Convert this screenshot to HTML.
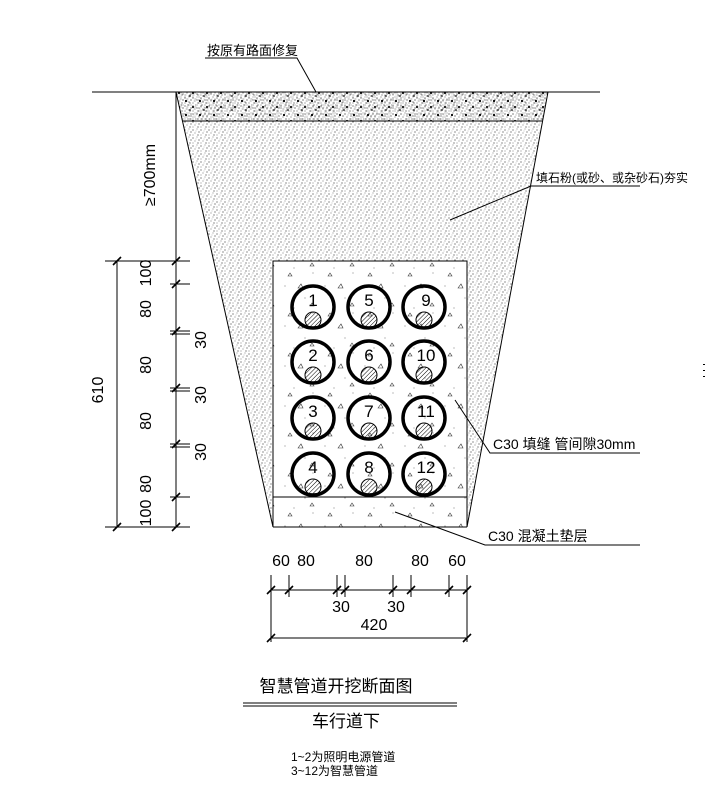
<!DOCTYPE html>
<html><head><meta charset="utf-8"><style>
body{margin:0;background:#fff}
text{font-family:"Liberation Sans Narrow","Liberation Sans","Noto Sans CJK SC",sans-serif;fill:#000}
</style></head><body>
<svg width="707" height="796" viewBox="0 0 707 796" xmlns="http://www.w3.org/2000/svg">
<defs>
<pattern id="sand" width="8" height="8" patternUnits="userSpaceOnUse">
<circle cx="1" cy="2" r="0.6" fill="#444"/><circle cx="5" cy="1" r="0.5" fill="#666"/>
<circle cx="7" cy="4" r="0.6" fill="#444"/><circle cx="3" cy="5" r="0.5" fill="#555"/>
<circle cx="6" cy="7" r="0.6" fill="#444"/><circle cx="1" cy="7" r="0.5" fill="#666"/>
<circle cx="4" cy="3" r="0.4" fill="#777"/>
</pattern>
<pattern id="pave" width="14" height="14" patternUnits="userSpaceOnUse">
<rect width="14" height="14" fill="url(#sand)"/>
<circle cx="4" cy="3" r="1.1" fill="#000"/><circle cx="11" cy="9" r="1.1" fill="#111"/>
<circle cx="8" cy="12" r="0.9" fill="#222"/>
</pattern>
<pattern id="conc" width="40" height="40" patternUnits="userSpaceOnUse">
<circle cx="5" cy="6" r="0.5" fill="#555"/><circle cx="25" cy="18" r="0.5" fill="#555"/>
<circle cx="33" cy="33" r="0.5" fill="#555"/><circle cx="14" cy="28" r="0.5" fill="#555"/>
<path d="M18 8 l3 -4 l2 4z M30 26 l2 -3 l2 3z M8 36 l2 -3 l2 3z" fill="none" stroke="#333" stroke-width="0.6"/>
</pattern>
<pattern id="hatch" width="3" height="3" patternUnits="userSpaceOnUse" patternTransform="rotate(45)">
<line x1="0" y1="0" x2="0" y2="3" stroke="#000" stroke-width="1"/>
</pattern>
</defs>
<polygon points="176,92 548,92 467,527 273,527" fill="url(#sand)"/>
<polygon points="176,92 548,92 542,121 182,121" fill="url(#pave)"/>
<rect x="273" y="261" width="194" height="266" fill="#fff"/>
<rect x="273" y="261" width="194" height="266" fill="url(#conc)"/>
<g stroke="#000" fill="none" stroke-width="1">
<line x1="92" y1="92" x2="600" y2="92"/>
<line x1="176" y1="92" x2="273" y2="527"/>
<line x1="548" y1="92" x2="467" y2="527"/>
<line x1="182" y1="121" x2="542" y2="121"/>
<rect x="273" y="261" width="194" height="236"/>
<line x1="273" y1="527" x2="467" y2="527"/>
<line x1="273" y1="497" x2="273" y2="527"/><line x1="467" y1="497" x2="467" y2="527"/>
<polyline points="205,58 297,58 316,92"/>
<polyline points="450,220 531,186 640,186"/>
<polyline points="455,400 490,453 640,453"/>
<polyline points="395,512 485,545 640,545"/>
<line x1="117" y1="261" x2="117" y2="527"/>
<line x1="176" y1="92" x2="176" y2="527"/>
<line x1="105" y1="261" x2="190" y2="261"/>
<line x1="105" y1="527" x2="190" y2="527"/>
<line x1="170" y1="284" x2="190" y2="284"/>
<line x1="170" y1="331" x2="190" y2="331"/><line x1="170" y1="334" x2="190" y2="334"/>
<line x1="170" y1="388" x2="190" y2="388"/><line x1="170" y1="391" x2="190" y2="391"/>
<line x1="170" y1="444" x2="190" y2="444"/><line x1="170" y1="447" x2="190" y2="447"/>
<line x1="170" y1="497" x2="190" y2="497"/>
<line x1="271" y1="590" x2="467" y2="590"/>
<line x1="271" y1="638" x2="467" y2="638"/>
<line x1="271" y1="575" x2="271" y2="642"/><line x1="467" y1="575" x2="467" y2="642"/>
<line x1="289" y1="575" x2="289" y2="597"/><line x1="337" y1="575" x2="337" y2="597"/>
<line x1="345" y1="575" x2="345" y2="597"/><line x1="393" y1="575" x2="393" y2="597"/>
<line x1="411" y1="575" x2="411" y2="597"/><line x1="449" y1="575" x2="449" y2="597"/>
</g>
<g stroke="#000" stroke-width="1.6">
<path d="M113 265l8-8M113 531l8-8M172 265l8-8M172 288l8-8M172 335l8-8M172 392l8-8M172 448l8-8M172 501l8-8M172 531l8-8"/>
<path d="M267 594l8-8M285 594l8-8M333 594l8-8M341 594l8-8M389 594l8-8M407 594l8-8M445 594l8-8M463 594l8-8M267 642l8-8M463 642l8-8"/>
</g>
<g fill="none" stroke="#000" stroke-width="3.5">
<circle cx="313" cy="307" r="21"/><circle cx="369" cy="307" r="21"/><circle cx="424" cy="307" r="21"/>
<circle cx="313" cy="362" r="21"/><circle cx="369" cy="362" r="21"/><circle cx="424" cy="362" r="21"/>
<circle cx="313" cy="418" r="21"/><circle cx="369" cy="418" r="21"/><circle cx="424" cy="418" r="21"/>
<circle cx="313" cy="474" r="21"/><circle cx="369" cy="474" r="21"/><circle cx="424" cy="474" r="21"/>
</g>
<g fill="url(#hatch)" stroke="#000" stroke-width="1">
<circle cx="313" cy="320" r="8"/><circle cx="369" cy="320" r="8"/><circle cx="424" cy="320" r="8"/>
<circle cx="313" cy="375" r="8"/><circle cx="369" cy="375" r="8"/><circle cx="424" cy="375" r="8"/>
<circle cx="313" cy="431" r="8"/><circle cx="369" cy="431" r="8"/><circle cx="424" cy="431" r="8"/>
<circle cx="313" cy="487" r="8"/><circle cx="369" cy="487" r="8"/><circle cx="424" cy="487" r="8"/>
</g>
<g font-size="17" text-anchor="middle">
<text x="313" y="306">1</text><text x="369" y="306">5</text><text x="426" y="306">9</text>
<text x="313" y="361">2</text><text x="369" y="361">6</text><text x="426" y="361">10</text>
<text x="313" y="417">3</text><text x="369" y="417">7</text><text x="426" y="417">11</text>
<text x="313" y="473">4</text><text x="369" y="473">8</text><text x="426" y="473">12</text>
</g>
<text x="207" y="55" font-size="13">按原有路面修复</text>
<text x="536" y="182" font-size="12">填石粉(或砂、或杂砂石)夯实</text>
<text x="493" y="449" font-size="14">C30 填缝 管间隙30mm</text>
<text x="488" y="541" font-size="14">C30 混凝土垫层</text>
<g font-size="16" text-anchor="middle">
<text transform="translate(155,175) rotate(-90)">≥700mm</text>
<text transform="translate(103,390) rotate(-90)">610</text>
<text transform="translate(151,273) rotate(-90)">100</text>
<text transform="translate(151,309) rotate(-90)">80</text>
<text transform="translate(206,340) rotate(-90)">30</text>
<text transform="translate(151,365) rotate(-90)">80</text>
<text transform="translate(206,395) rotate(-90)">30</text>
<text transform="translate(151,421) rotate(-90)">80</text>
<text transform="translate(206,452) rotate(-90)">30</text>
<text transform="translate(151,484) rotate(-90)">80</text>
<text transform="translate(151,513) rotate(-90)">100</text>
<text x="281" y="566">60</text><text x="306" y="566">80</text><text x="364" y="566">80</text>
<text x="420" y="566">80</text><text x="457" y="566">60</text>
<text x="341" y="612">30</text><text x="396" y="612">30</text>
<text x="374" y="630">420</text>
</g>
<text x="336" y="692" font-size="17" text-anchor="middle">智慧管道开挖断面图</text>
<line x1="243" y1="703" x2="457" y2="703" stroke="#000" stroke-width="1"/>
<line x1="243" y1="706" x2="457" y2="706" stroke="#000" stroke-width="1"/>
<text x="346" y="727" font-size="17" text-anchor="middle">车行道下</text>
<text x="291" y="761" font-size="12">1~2为照明电源管道</text>
<text x="291" y="775" font-size="12">3~12为智慧管道</text>
<g fill="#000"><rect x="703" y="364" width="2" height="1"/><rect x="703" y="370" width="2" height="1"/><rect x="703" y="376" width="2" height="1"/></g>
</svg>
</body></html>
